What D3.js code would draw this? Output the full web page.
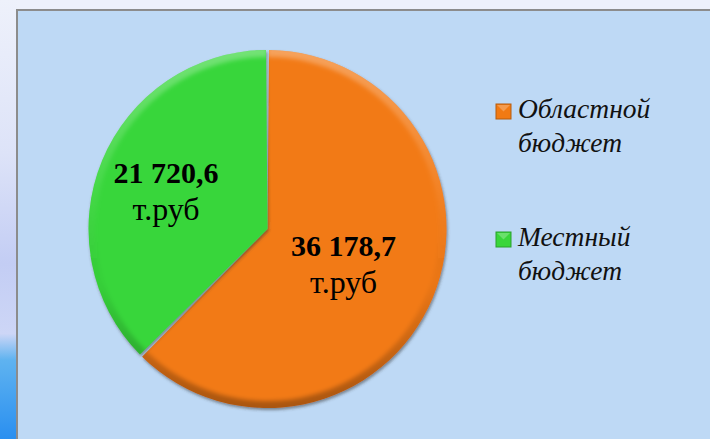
<!DOCTYPE html>
<html>
<head>
<meta charset="utf-8">
<script src="https://cdn.jsdelivr.net/npm/d3@7"></script>
<style>
  html, body { margin:0; padding:0; }
  body { width:710px; height:439px; overflow:hidden; background:#eef1fb; }
  .valLabel { font-family:"Liberation Serif","DejaVu Serif",serif; fill:#000; }
  .legText { font-family:"Liberation Serif","DejaVu Serif",serif; font-style:italic; font-size:27.5px; fill:#111; }
</style>
</head>
<body>
<div id="chart"></div>
<script>
// data
var categories = ["Областной бюджет", "Местный бюджет"];
var legendLines = [["Областной", "бюджет"], ["Местный", "бюджет"]];
var values = [36178.7, 21720.6];
var valueTexts = ["36 178,7", "21 720,6"];
var unitText = "т.руб";
var colors = ["#f27a13", "#39d63a"];

var width = 710, height = 439;
var cx = 267.5, cy = 229, radius = 179;

var svg = d3.select("#chart").append("svg")
	.attr("width", width)
	.attr("height", height);

var defs = svg.append("defs");

// slide background strip on the left
var sideGrad = defs.append("linearGradient").attr("id", "sideGrad")
	.attr("x1", 0).attr("y1", 0).attr("x2", 0).attr("y2", 1);
sideGrad.append("stop").attr("offset", "0%").attr("stop-color", "#eef1fb");
sideGrad.append("stop").attr("offset", "35%").attr("stop-color", "#dde3f8");
sideGrad.append("stop").attr("offset", "60%").attr("stop-color", "#c3cdf4");
sideGrad.append("stop").attr("offset", "76%").attr("stop-color", "#cdd6f6");
sideGrad.append("stop").attr("offset", "82%").attr("stop-color", "#5fb3f0");
sideGrad.append("stop").attr("offset", "100%").attr("stop-color", "#2a8ff0");

svg.append("rect").attr("x", 0).attr("y", 0).attr("width", 17).attr("height", height)
	.attr("fill", "url(#sideGrad)");

// chart panel
svg.append("rect")
	.attr("x", 17).attr("y", 10)
	.attr("width", width + 10).attr("height", height + 10)
	.attr("fill", "#bed9f5")
	.attr("stroke", "#8c8c8c")
	.attr("stroke-width", 2);

var shadow = defs.append("filter").attr("id", "shadow")
	.attr("x", "-10%").attr("y", "-10%").attr("width", "120%").attr("height", "120%");
shadow.append("feDropShadow")
	.attr("dx", 1).attr("dy", 2).attr("stdDeviation", 1.6)
	.attr("flood-color", "#3a3a3a").attr("flood-opacity", 0.55);

var soft = defs.append("filter").attr("id", "soft")
	.attr("x", "-10%").attr("y", "-10%").attr("width", "120%").attr("height", "120%");
soft.append("feGaussianBlur").attr("stdDeviation", 2);

// rim shading (bevel look)
var rimGrad = defs.append("linearGradient").attr("id", "rimGrad")
	.attr("gradientUnits", "userSpaceOnUse")
	.attr("x1", 0).attr("y1", -radius).attr("x2", 0).attr("y2", radius);
rimGrad.append("stop").attr("offset", "0%").attr("stop-color", "#ffffff").attr("stop-opacity", 0.3);
rimGrad.append("stop").attr("offset", "40%").attr("stop-color", "#ffffff").attr("stop-opacity", 0.06);
rimGrad.append("stop").attr("offset", "65%").attr("stop-color", "#000000").attr("stop-opacity", 0.03);
rimGrad.append("stop").attr("offset", "100%").attr("stop-color", "#000000").attr("stop-opacity", 0.3);

var pie = d3.pie().sort(null).value(function(d){ return d; });
var arcs = pie(values);

var arc = d3.arc().innerRadius(0).outerRadius(radius)
	.padAngle(3 / radius).padRadius(radius);
var rimArc = d3.arc().innerRadius(radius - 7).outerRadius(radius + 4)
	.padAngle(0).padRadius(radius);

var g = svg.append("g").attr("transform", "translate(" + cx + "," + cy + ")");

arcs.forEach(function(d, i){
	defs.append("clipPath").attr("id", "clip" + i)
		.append("path").attr("d", arc(d));
});

g.selectAll(".slice")
	.data(arcs)
	.enter().append("path")
	.attr("class", "slice")
	.attr("d", arc)
	.attr("fill", function(d, i){ return colors[i]; })
	.attr("filter", "url(#shadow)");

g.selectAll(".rim")
	.data(arcs)
	.enter().append("g")
	.attr("clip-path", function(d, i){ return "url(#clip" + i + ")"; })
	.append("path")
	.attr("class", "rim")
	.attr("d", rimArc)
	.attr("fill", "url(#rimGrad)")
	.attr("filter", "url(#soft)");

// value labels
var labelRadius = [0.46, 0.613];
arcs.forEach(function(d, i){
	var la = d3.arc().innerRadius(radius * labelRadius[i]).outerRadius(radius * labelRadius[i]);
	var c = la.centroid(d);
	var t = g.append("text").attr("class", "valLabel")
		.attr("text-anchor", "middle")
		.attr("transform", "translate(" + c[0] + "," + c[1] + ")");
	t.append("tspan").attr("x", 0).attr("y", -4)
		.style("font-weight", "bold").style("font-size", "30px")
		.text(valueTexts[i]);
	t.append("tspan").attr("x", 0).attr("y", 33)
		.style("font-size", "32px")
		.text(unitText);
});

// legend
var legY = [104, 232];
var legend = svg.selectAll(".leg")
	.data(categories)
	.enter().append("g")
	.attr("class", "leg")
	.attr("transform", function(d, i){ return "translate(496," + legY[i] + ")"; });

legend.append("rect")
	.attr("width", 15).attr("height", 15)
	.attr("fill", function(d, i){ return colors[i]; })
	.attr("stroke", function(d, i){ return d3.color(colors[i]).darker(0.8); })
	.attr("stroke-width", 1);

legend.append("path")
	.attr("d", "M1,1 L7.5,7.5 L14,1 Z")
	.attr("fill", "#ffffff").attr("opacity", 0.25);

legend.each(function(d, i){
	var t = d3.select(this).append("text").attr("class", "legText");
	t.append("tspan").attr("x", 22).attr("y", 14).text(legendLines[i][0]);
	t.append("tspan").attr("x", 22).attr("y", 48).text(legendLines[i][1]);
});
</script>
</body>
</html>
